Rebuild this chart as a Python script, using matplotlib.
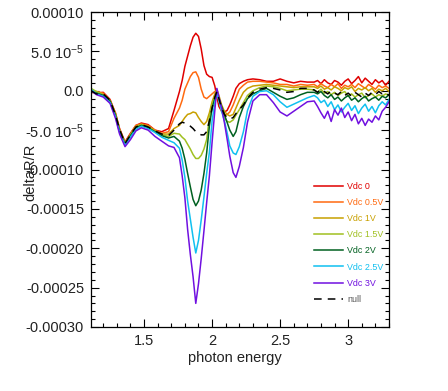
import numpy as np
import matplotlib
matplotlib.use('Agg')
import matplotlib.pyplot as plt
from matplotlib.ticker import MultipleLocator

plt.rcParams['font.family'] = ['Liberation Sans', 'DejaVu Sans']
plt.rcParams['mathtext.default'] = 'regular'

# photon energy grid
energy = [1.11, 1.15, 1.20, 1.25, 1.29, 1.32, 1.36, 1.40, 1.44, 1.48, 1.53, 1.58, 1.63, 1.68, 1.72,
          1.76, 1.78, 1.80, 1.82, 1.84, 1.86, 1.88, 1.90, 1.92, 1.94, 1.96, 1.98, 2.00, 2.02, 2.035,
          2.05, 2.07, 2.09, 2.11, 2.13, 2.155, 2.175, 2.20, 2.23, 2.26, 2.30, 2.35, 2.40, 2.45, 2.50,
          2.55, 2.60, 2.65, 2.70,
          2.75, 2.775, 2.80, 2.825, 2.85, 2.875, 2.90, 2.925, 2.95, 2.975, 3.00, 3.025, 3.05, 3.075,
          3.10, 3.125, 3.15, 3.175, 3.20, 3.225, 3.25, 3.275, 3.30]

# deltaR/R in units of 1e-5
vdc_0 = [0.1, -0.3, -0.2, -1.1, -2.9, -4.8, -6.5, -5.4, -4.4, -4.1, -4.3, -5.0, -5.2, -4.8, -2.5,
         -0.1, 1.3, 3.1, 4.4, 5.7, 6.8, 7.3, 6.9, 5.3, 3.2, 2.1, 1.8, 1.7, 0.6, -0.8,
         -2.0, -2.6, -2.7, -2.5, -1.8, -0.7, 0.3, 0.9, 1.2, 1.4, 1.5, 1.4, 1.2, 1.2, 1.5,
         1.2, 1.0, 1.2, 1.1,
         1.1, 1.3, 0.9, 1.4, 1.0, 0.8, 1.3, 1.1, 0.7, 1.2, 1.5, 0.9, 1.3, 1.8,
         1.0, 1.6, 1.2, 0.8, 1.4, 1.0, 1.3, 0.7, 1.2]
vdc_05 = [-0.3, -0.1, -0.3, -1.2, -2.8, -4.9, -6.6, -5.5, -4.4, -4.2, -4.4, -5.0, -5.4, -5.2, -3.5,
          -2.2, -1.2, 0.2, 1.0, 1.8, 2.3, 2.4, 1.7, 0.2, -0.8, -1.0, -0.7, -0.4, -0.1, -0.3,
          -1.0, -2.4, -3.1, -3.0, -2.7, -1.8, -0.9, 0.2, 0.7, 1.1, 1.2, 1.2, 1.1, 1.0, 0.8,
          0.8, 0.6, 0.8, 0.7,
          0.8, 0.5, 0.9, 0.6, 0.4, 0.8, 0.5, 0.9, 0.3, 0.7, 0.5, 0.8, 0.4, 0.9,
          0.6, 0.3, 0.8, 0.5, 0.2, 0.7, 0.4, 0.6, 0.3]
vdc_1 = [0.2, -0.2, -0.5, -1.3, -3.0, -5.0, -6.6, -5.6, -4.5, -4.3, -4.5, -5.1, -5.5, -5.5, -4.8,
         -4.4, -3.9, -3.4, -3.0, -2.9, -2.7, -2.8, -3.4, -3.9, -4.3, -3.9, -2.8, -1.4, -0.4, 0.2,
         -0.6, -1.8, -2.6, -3.0, -3.2, -3.0, -2.2, -1.2, -0.2, 0.3, 0.6, 0.7, 0.8, 0.7, 0.6,
         0.5, 0.4, 0.5, 0.5,
         0.5, 0.3, 0.6, 0.2, 0.4, 0.1, 0.5, 0.3, 0.0, 0.4, 0.2, 0.5, -0.1, 0.3,
         0.1, 0.4, 0.0, 0.3, -0.2, 0.2, 0.0, 0.3, -0.1]
vdc_15 = [0.3, -0.1, -0.5, -1.3, -3.0, -5.0, -6.7, -5.6, -4.6, -4.3, -4.6, -5.1, -5.6, -5.8, -5.4,
          -5.5, -5.9, -6.2, -6.8, -7.4, -8.1, -8.6, -8.6, -8.2, -7.4, -6.2, -3.4, -1.8, -0.8, -0.2,
          -1.2, -2.6, -3.4, -3.9, -4.0, -3.7, -3.1, -2.4, -1.5, -0.6, 0.0, 0.4, 0.6, 0.5, 0.3,
          0.0, 0.1, 0.2, 0.2,
          0.1, -0.2, 0.2, -0.3, -0.1, -0.5, -0.2, -0.6, -0.3, -0.1, -0.7, -0.4, -0.8, -0.5,
          -0.3, -0.9, -0.6, -0.4, -0.8, -0.5, -0.7, -0.4, -0.6]
vdc_2 = [-0.1, -0.3, -0.6, -1.3, -3.1, -5.1, -6.8, -5.7, -4.7, -4.4, -4.7, -5.2, -5.7, -6.0, -5.8,
         -6.4, -7.3, -8.7, -10.5, -12.2, -13.8, -14.6, -14.0, -12.6, -10.5, -7.9, -4.5, -2.2, -1.0, -0.3,
         -1.0, -2.0, -3.0, -4.0, -5.0, -5.8, -5.2, -3.4, -2.0, -1.0, -0.4, 0.0, 0.3, -0.2, -0.7,
         -1.1, -0.9, -0.5, -0.2,
         -0.2, -0.4, -0.1, -0.6, -0.9, -0.5, -1.1, -0.8, -1.3, -0.9, -0.6, -1.2, -0.9, -1.4,
         -1.0, -0.7, -1.3, -1.0, -0.8, -1.2, -0.7, -0.9, -0.5]
vdc_25 = [0.2, -0.4, -0.7, -1.5, -3.3, -5.3, -6.9, -5.9, -4.9, -4.5, -4.8, -5.3, -5.9, -6.3, -6.6,
          -7.3, -8.8, -11.0, -14.0, -16.3, -18.6, -20.6, -19.0, -16.4, -13.5, -10.5, -7.8, -3.8, -1.5, -0.3,
          -1.2, -2.6, -3.8, -5.3, -7.0, -7.9, -8.1, -7.1, -5.2, -2.5, -0.7, -0.1, 0.0, -0.5, -1.4,
          -2.1, -1.7, -1.3, -0.9,
          -0.6, -0.9, -1.5, -1.2, -2.0, -1.4, -2.4, -1.8, -2.7, -2.1, -1.6, -2.5, -1.9, -2.9,
          -2.2, -1.7, -2.6, -2.0, -2.8, -1.9, -1.4, -1.8, -1.1]
vdc_3 = [0.0, -0.5, -0.8, -1.6, -3.5, -5.5, -7.1, -6.2, -5.1, -4.7, -5.0, -5.8, -6.4, -7.0, -7.2,
         -8.5, -10.8, -13.6, -17.6, -20.8, -23.6, -27.0, -24.5, -21.3, -17.8, -14.2, -10.8, -6.5, -2.5, 0.3,
         -0.8, -2.2, -4.0, -6.1, -8.3, -10.4, -11.0, -9.6, -7.2, -4.0, -1.3, -0.5, -0.5, -1.5, -2.7,
         -3.2, -2.6, -2.0, -1.4,
         -1.3, -2.0, -2.8, -3.5, -2.6, -3.9, -2.4, -3.1, -2.2, -3.4, -2.7, -3.8, -3.0, -4.2,
         -3.5, -4.4, -3.6, -4.0, -3.2, -3.7, -2.6, -2.1, -1.4]
null = [0.0, -0.4, -0.4, -1.2, -3.1, -4.9, -6.7, -5.6, -4.6, -4.3, -4.6, -5.1, -5.5, -5.7, -5.0,
        -4.2, -4.0, -4.1, -4.3, -4.5, -4.8, -5.2, -5.4, -5.6, -5.6, -5.2, -3.8, -2.2, -0.8, -0.1,
        -1.0, -2.2, -3.0, -3.4, -3.6, -3.4, -2.9, -2.4, -1.8, -0.9, -0.2, 0.2, 0.4, 0.3, 0.1,
        -0.2, -0.1, 0.3, 0.3,
        0.1, -0.2, 0.2, -0.1, -0.4, 0.0, -0.3, -0.5, -0.1, -0.6, -0.3, -0.7, -0.2, -0.5,
        -0.8, -0.3, -0.6, -0.2, -0.5, -0.1, -0.4, -0.2, -0.6]

series = [vdc_0, vdc_05, vdc_1, vdc_15, vdc_2, vdc_25, vdc_3]
labels = ['Vdc 0', 'Vdc 0.5V', 'Vdc 1V', 'Vdc 1.5V', 'Vdc 2V', 'Vdc 2.5V', 'Vdc 3V']
colors = ['#e00000', '#ff6a10', '#c8a000', '#a0c020', '#006020', '#10c0f0', '#7010e0']

ytick_vals = [1e-4, 5e-5, 0.0, -5e-5, -1e-4, -1.5e-4, -2e-4, -2.5e-4, -3e-4]
ytick_text = ['0.00010', '5.0 10$^{-5}$', '0.0', '-5.0 10$^{-5}$', '-0.00010',
              '-0.00015', '-0.00020', '-0.00025', '-0.00030']
xtick_vals = [1.5, 2.0, 2.5, 3.0]
xtick_text = ['1.5', '2', '2.5', '3']

fig = plt.figure(figsize=(4.48, 3.91), dpi=100)
ax = fig.add_axes([91 / 448, 1 - 327 / 391, 298 / 448, 315 / 391])

x = np.array(energy)
for vals, lab, col in zip(series, labels, colors):
    ax.plot(x, np.array(vals) * 1e-5, color=col, lw=1.1, label=lab)
ax.plot(x, np.array(null) * 1e-5, color='black', lw=1.1, ls=(0, (5, 4)), label='null')

ax.set_xlim(1.11, 3.30)
ax.set_ylim(-3e-4, 1e-4)
ax.set_xticks(xtick_vals)
ax.set_xticklabels(xtick_text)
ax.set_yticks(ytick_vals)
ax.set_yticklabels(ytick_text)
ax.xaxis.set_minor_locator(MultipleLocator(0.1))
ax.yaxis.set_minor_locator(MultipleLocator(1e-5))
ax.tick_params(which='both', direction='in', top=True, right=True,
               labelsize=10.5, labelcolor='#222222', width=0.8)
ax.tick_params(which='major', length=6, pad=5)
ax.tick_params(which='minor', length=3)
for s in ax.spines.values():
    s.set_linewidth(0.9)

fig.text(235 / 448, 1 - 358 / 391, 'photon energy', ha='center', va='center',
         fontsize=10.5, color='#222222')
fig.text(30 / 448, 1 - 172 / 391, 'deltaR/R', ha='center', va='center',
         rotation=90, fontsize=10.5, color='#222222')

leg = ax.legend(loc='upper left', bbox_to_anchor=(314 / 448, 1 - 182 / 391),
                bbox_transform=fig.transFigure, frameon=False, fontsize=6.4,
                handlelength=3.3, handletextpad=0.45, labelspacing=0.8,
                borderpad=0, borderaxespad=0,
                labelcolor=colors + ['#555555'])

fig.savefig('out.png', dpi=100)
